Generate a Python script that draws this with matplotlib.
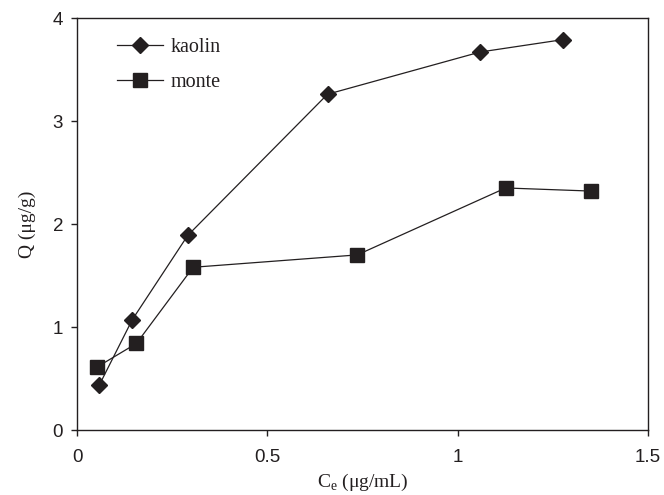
import numpy as np
import matplotlib.pyplot as plt

# adsorption isotherm data
kaolin_ce = [0.059, 0.145, 0.291, 0.658, 1.059, 1.276]
kaolin_q = [0.44, 1.07, 1.89, 3.26, 3.67, 3.79]
monte_ce = [0.052, 0.156, 0.305, 0.736, 1.126, 1.349]
monte_q = [0.61, 0.84, 1.58, 1.70, 2.35, 2.32]

x_ticks = [0, 0.5, 1, 1.5]
x_ticklabels = ["0", "0.5", "1", "1.5"]
y_ticks = [0, 1, 2, 3, 4]

ink = "#231f20"
serif = "Liberation Serif"
sans = "Liberation Sans"

fig = plt.figure(figsize=(6.64, 4.95), dpi=100)
ax = fig.add_axes([0.116, 0.1313, 0.86, 0.8323])

ax.plot(kaolin_ce, kaolin_q, color=ink, lw=0.9, marker="D", ms=8.5,
        mfc=ink, mec=ink, label="kaolin")
ax.plot(monte_ce, monte_q, color=ink, lw=0.9, marker="s", ms=10.5,
        mfc=ink, mec=ink, label="monte")

ax.set_xlim(0, 1.5)
ax.set_ylim(0, 4)
ax.set_xticks(x_ticks)
ax.set_xticklabels(x_ticklabels)
ax.set_yticks(y_ticks)

for s in ax.spines.values():
    s.set_linewidth(1.0)
    s.set_color(ink)
ax.tick_params(direction="out", length=4, width=1.0, color=ink,
               labelsize=13.5, labelcolor=ink, top=False, right=False)
ax.tick_params(axis="x", pad=10)
ax.tick_params(axis="y", pad=6)
for lab in ax.get_xticklabels() + ax.get_yticklabels():
    lab.set_fontfamily(sans)

ax.set_xlabel(r"C$_\mathregular{e}$ ($\mathregular{\mu}$g/mL)", fontsize=14,
              fontfamily=serif, color=ink, labelpad=4)
ax.set_ylabel("Q (μg/g)", fontsize=14, fontfamily=serif, color=ink, labelpad=12)

leg = ax.legend(loc="upper left", bbox_to_anchor=(0.056, 0.972), frameon=False,
                prop={"family": serif, "size": 14.5}, handlelength=2.3,
                handletextpad=0.35, labelspacing=0.8, borderaxespad=0)
for t in leg.get_texts():
    t.set_color(ink)

fig.savefig("out.png", dpi=100)
